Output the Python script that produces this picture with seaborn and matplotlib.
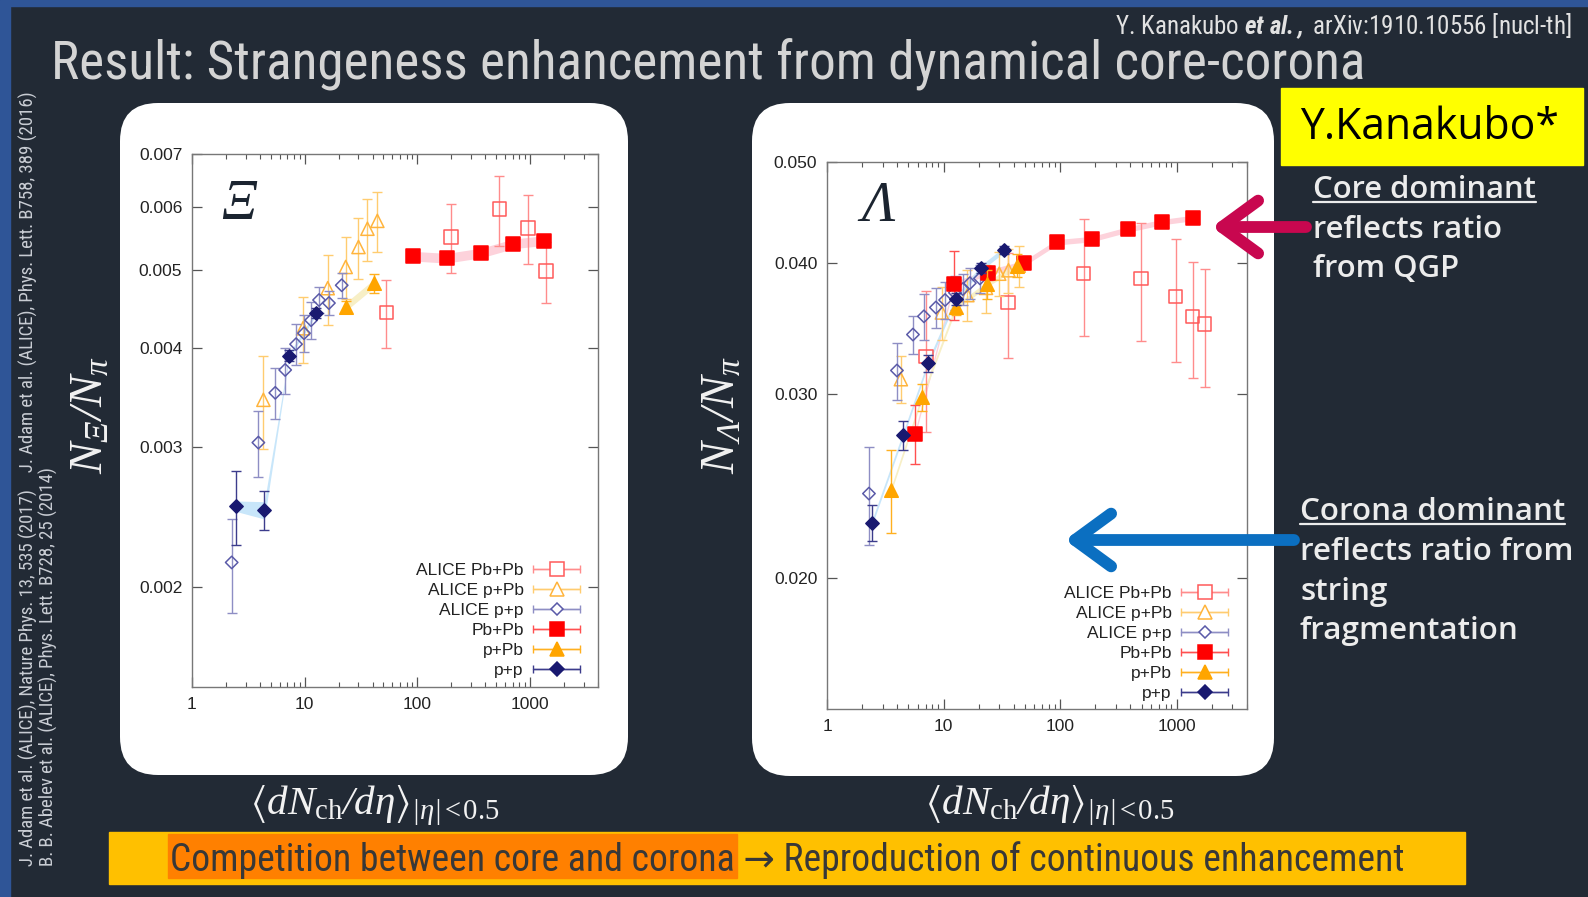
import numpy as np
import matplotlib
matplotlib.use("Agg")
import matplotlib.pyplot as plt
import seaborn as sns
from matplotlib import font_manager as fm
from matplotlib.patches import FancyBboxPatch, Rectangle, FancyArrowPatch
from matplotlib.lines import Line2D
from matplotlib.collections import LineCollection
from matplotlib.container import ErrorbarContainer
from matplotlib.legend_handler import HandlerErrorbar
from matplotlib.ticker import FixedLocator, FixedFormatter, LogLocator, NullLocator, NullFormatter
from matplotlib.transforms import IdentityTransform

# ---------------- Xi / pi ----------------
xi_alice_pbpb_x = [53, 198, 533, 958, 1380]
xi_alice_pbpb_y = [0.00443, 0.00551, 0.00597, 0.00565, 0.00499]
xi_alice_pbpb_err = [0.00044, 0.00055, 0.00060, 0.00056, 0.00044]

xi_alice_ppb_x = [4.30, 9.66, 16.0, 23.1, 30.0, 36.0, 44.1]
xi_alice_ppb_y = [0.00344, 0.00423, 0.00475, 0.00505, 0.00535, 0.00564, 0.00577]
xi_alice_ppb_err = [0.00046, 0.00040, 0.00048, 0.00045, 0.00047, 0.00050, 0.00050]

xi_alice_pp_x = [2.25, 3.88, 5.48, 6.71, 8.38, 9.86, 11.4, 13.4, 16.4, 21.3]
xi_alice_pp_y = [0.00215, 0.00304, 0.00351, 0.00375, 0.00404, 0.00417, 0.00433, 0.00459, 0.00455, 0.00479]
xi_alice_pp_err = [0.00029, 0.00029, 0.00026, 0.00025, 0.00024, 0.00022, 0.00023, 0.00017, 0.00016, 0.00017]

xi_pbpb_x = [91.5, 182, 370, 707, 1325]
xi_pbpb_y = [0.00521, 0.00518, 0.00526, 0.00540, 0.00545]
xi_pbpb_err = [0.00005, 0.00005, 0.00005, 0.00005, 0.00005]
xi_pbpb_band = [0.014, 0.014, 0.014, 0.014, 0.014]

xi_ppb_x = [23.1, 41.5]
xi_ppb_y = [0.00450, 0.00482]
xi_ppb_err = [0.00008, 0.00013]
xi_ppb_band = [0.012, 0.012]

xi_pp_x = [2.44, 4.39, 7.28, 12.6]
xi_pp_y = [0.00253, 0.00250, 0.00391, 0.00442]
xi_pp_err = [0.00027, 0.00014, 0.00006, 0.00006]
xi_pp_band = [0.015, 0.025, 0.006, 0.006]

# ---------------- Lambda / pi ----------------
la_alice_pbpb_x = [7.05, 35.6, 159, 491, 979, 1368, 1734]
la_alice_pbpb_y = [0.0326, 0.0367, 0.0391, 0.0387, 0.0372, 0.0356, 0.0350]
la_alice_pbpb_err = [0.0050, 0.0042, 0.0050, 0.0050, 0.0050, 0.0045, 0.0045]

la_alice_ppb_x = [4.30, 9.66, 16.0, 23.1, 30.0, 36.0, 44.1]
la_alice_ppb_y = [0.0310, 0.0359, 0.0373, 0.0379, 0.0391, 0.0394, 0.0398]
la_alice_ppb_err = [0.0016, 0.0021, 0.0021, 0.0020, 0.0019, 0.0019, 0.0018]

la_alice_pp_x = [2.29, 3.98, 5.46, 6.78, 8.59, 10.3, 12.5, 14.6, 16.8, 20.5]
la_alice_pp_y = [0.0241, 0.0316, 0.0342, 0.0356, 0.0363, 0.0369, 0.0375, 0.0378, 0.0383, 0.0387]
la_alice_pp_err = [0.0026, 0.0020, 0.0014, 0.0018, 0.0016, 0.0015, 0.0014, 0.0013, 0.0013, 0.0012]

la_pbpb_x = [5.68, 12.25, 23.9, 48.8, 93.5, 187, 380, 742, 1368]
la_pbpb_y = [0.0275, 0.0382, 0.0392, 0.0400, 0.0419, 0.0422, 0.0431, 0.0438, 0.0442]
la_pbpb_err = [0.0018, 0.0029, 0.0006, 0.0003, 0.0003, 0.0003, 0.0003, 0.0003, 0.0003]
la_pbpb_band = [0.006] * 9

la_ppb_x = [3.54, 6.52, 12.7, 23.5, 42.5]
la_ppb_y = [0.0243, 0.0298, 0.0363, 0.0382, 0.0398]
la_ppb_err = [0.0022, 0.0009, 0.0006, 0.0012, 0.0010]
la_ppb_band = [0.006] * 5

la_pp_x = [2.43, 4.48, 7.33, 12.7, 20.9, 32.9]
la_pp_y = [0.0226, 0.0274, 0.0321, 0.0370, 0.0396, 0.0412]
la_pp_err = [0.0009, 0.0009, 0.0006, 0.0005, 0.0004, 0.0004]
la_pp_band = [0.006] * 6

LEGEND_LABELS = ["ALICE Pb+Pb", "ALICE p+Pb", "ALICE p+p", "Pb+Pb", "p+Pb", "p+p"]
XTICKS = [1, 10, 100, 1000]
XTICK_LABELS = ["1", "10", "100", "1000"]
XI_YTICKS = [0.002, 0.003, 0.004, 0.005, 0.006, 0.007]
XI_YTICK_LABELS = ["0.002", "0.003", "0.004", "0.005", "0.006", "0.007"]
LA_YTICKS = [0.020, 0.030, 0.040, 0.050]
LA_YTICK_LABELS = ["0.020", "0.030", "0.040", "0.050"]

TITLE = "Result: Strangeness enhancement from dynamical core-corona"
CITE = r"Y. Kanakubo $\mathsf{et\ al.,}$ arXiv:1910.10556 [nucl-th]"
REF_LINE1 = ("J. Adam et al. (ALICE), Nature Phys. 13, 535 (2017)    "
             "J. Adam et al. (ALICE), Phys. Lett. B758, 389 (2016)")
REF_LINE2 = "B. B. Abelev et al. (ALICE), Phys. Lett. B728, 25 (2014)"
CORE_NOTE = ["Core dominant", "reflects ratio", "from QGP"]
CORONA_NOTE = ["Corona dominant", "reflects ratio from", "string", "fragmentation"]
BOTTOM_A = "Competition between core and corona"
BOTTOM_B = " \u2192 Reproduction of continuous enhancement"

# ---------------- style ----------------
sns.set_theme(style="ticks")

_names = {f.name for f in fm.fontManager.ttflist}


def first_font(cands, default):
    for c in cands:
        if c in _names:
            return c
    return default


NARROW = first_font(["Liberation Sans Narrow", "Roboto Condensed", "Open Sans Condensed",
                     "DejaVu Sans Condensed", "Noto Sans Condensed"], "Liberation Sans")
UI = first_font(["Open Sans", "Noto Sans", "Lato"], "DejaVu Sans")

plt.rcParams.update({
    "mathtext.fontset": "custom",
    "mathtext.rm": "Liberation Serif:italic",
    "mathtext.it": "Liberation Serif:italic",
    "mathtext.bf": "Liberation Serif",
    "mathtext.sf": f"{NARROW}:italic:bold",
    "mathtext.fallback": "stix",
    "axes.edgecolor": "#777777",
    "axes.linewidth": 1.0,
})
plt.rcParams["font.family"] = ["Liberation Sans", "DejaVu Sans"]

BG = "#222a35"
FRAME = "#2f5597"

STY = {
    "alice_pbpb": dict(marker="s", s=95, face="none", edge="#ff5a5a", ecolor="#ff8c8c", z=3.0, ms=9.5),
    "alice_ppb": dict(marker="^", s=90, face="none", edge="#ffb43c", ecolor="#ffcc70", z=3.1, ms=9.5),
    "alice_pp": dict(marker="D", s=40, face="none", edge="#5a5aa8", ecolor="#8e8ec4", z=3.2, ms=6.4),
    "pbpb": dict(marker="s", s=105, face="#ff0000", edge="#ff0000", ecolor="#ff5050", z=5.0, ms=10),
    "ppb": dict(marker="^", s=95, face="#ffa500", edge="#ffa500", ecolor="#ffb020", z=5.2, ms=10),
    "pp": dict(marker="D", s=46, face="#191970", edge="#191970", ecolor="#3c3c8c", z=5.4, ms=6.8),
}
BAND = {"pbpb": "#fdd2db", "ppb": "#f7efc6", "pp": "#c8e6fa"}
ORDER = ["alice_pbpb", "alice_ppb", "alice_pp", "pbpb", "ppb", "pp"]

W, H = 1588, 897
fig = plt.figure(figsize=(W / 100, H / 100), dpi=100)
fig.patch.set_facecolor(BG)
renderer = fig.canvas.get_renderer()


def rect(x0, y0, x1, y1):
    return [x0 / W, 1 - y1 / H, (x1 - x0) / W, (y1 - y0) / H]


def ftext(x, y, s, **kw):
    return fig.text(x / W, 1 - y / H, s, **kw)


def fit(t, target, along="w"):
    for _ in range(3):
        bb = t.get_window_extent(renderer)
        cur = bb.width if along == "w" else bb.height
        t.set_fontsize(t.get_fontsize() * target / cur)


# slide frame and white panels
fig.add_artist(Rectangle((0, 0), 10 / W, 1, transform=fig.transFigure, color=FRAME, zorder=-3))
fig.add_artist(Rectangle((0, 1 - 6 / H), 1, 6 / H, transform=fig.transFigure, color=FRAME, zorder=-3))
for (x0, y0, x1, y1) in [(120, 103, 628, 775), (752, 103, 1274, 776)]:
    fig.add_artist(FancyBboxPatch((x0 / 100, (H - y1) / 100), (x1 - x0) / 100, (y1 - y0) / 100,
                                  boxstyle="round,pad=0,rounding_size=0.38",
                                  transform=fig.dpi_scale_trans, facecolor="white",
                                  edgecolor="none", zorder=-2))


def proxy(st):
    face = "white" if st["face"] == "none" else st["face"]
    body = Line2D([], [], color=st["ecolor"], lw=1.0, marker=st["marker"], markersize=st["ms"],
                  markerfacecolor=face, markeredgecolor=st["edge"], markeredgewidth=1.1)
    cap = Line2D([], [], color=st["ecolor"], lw=1.0, marker="|", markersize=6, markeredgewidth=1.0)
    bars = LineCollection([], colors=[st["ecolor"]], linewidths=1.0)
    return ErrorbarContainer((body, (cap, cap), (bars,)), has_xerr=True, has_yerr=False)


def build(ax, series, bands, ylim, yticks, yticklabels, symbol, sym_pos, leg_anchor):
    ax.set_xscale("log")
    ax.set_yscale("log")
    for key, (x, y, b) in bands.items():
        x = np.asarray(x); y = np.asarray(y); b = np.asarray(b)
        ax.fill_between(x, y * (1 - b), y * (1 + b), color=BAND[key], lw=0, zorder=1)
    for key in ORDER:
        x, y, e = series[key]
        st = STY[key]
        ax.errorbar(x, y, yerr=e, fmt="none", ecolor=st["ecolor"], elinewidth=1.0,
                    capsize=3.3, capthick=1.0, zorder=st["z"])
        sns.scatterplot(x=x, y=y, ax=ax, marker=st["marker"], s=st["s"], color=st["edge"],
                        facecolor=st["face"], edgecolor=st["edge"], linewidth=1.1,
                        zorder=st["z"] + 0.05, legend=False)
    ax.set_xlim(1, 4000)
    ax.set_ylim(*ylim)
    ax.xaxis.set_major_locator(FixedLocator(XTICKS))
    ax.xaxis.set_major_formatter(FixedFormatter(XTICK_LABELS))
    ax.xaxis.set_minor_locator(LogLocator(base=10, subs=np.arange(2, 10)))
    ax.xaxis.set_minor_formatter(NullFormatter())
    ax.yaxis.set_major_locator(FixedLocator(yticks))
    ax.yaxis.set_major_formatter(FixedFormatter(yticklabels))
    ax.yaxis.set_minor_locator(NullLocator())
    ax.tick_params(which="both", direction="in", top=True, right=True, color="#555555",
                   labelcolor="#222222", labelsize=12.5)
    ax.tick_params(which="major", length=7, width=0.9, pad=7)
    ax.tick_params(which="minor", length=3.5, width=0.8)
    ax.set_xlabel("")
    ax.set_ylabel("")
    ax.set_facecolor("white")
    ax.text(sym_pos[0], sym_pos[1], symbol, transform=ax.transAxes, ha="center", va="center",
            family="Liberation Serif", style="italic", fontsize=40, color="#1b2430")
    handles = [proxy(STY[k]) for k in ORDER]
    ax.legend(handles, LEGEND_LABELS, loc="lower right", bbox_to_anchor=leg_anchor,
              frameon=False, markerfirst=False, handlelength=2.7, handletextpad=0.55,
              labelspacing=0.28, borderpad=0, borderaxespad=0, numpoints=1,
              prop={"family": "Liberation Sans", "size": 12.5}, labelcolor="#222222",
              handler_map={ErrorbarContainer: HandlerErrorbar(xerr_size=1.35, numpoints=1)})


ax1 = fig.add_axes(rect(192, 154, 598, 687))
build(ax1,
      {"alice_pbpb": (xi_alice_pbpb_x, xi_alice_pbpb_y, xi_alice_pbpb_err),
       "alice_ppb": (xi_alice_ppb_x, xi_alice_ppb_y, xi_alice_ppb_err),
       "alice_pp": (xi_alice_pp_x, xi_alice_pp_y, xi_alice_pp_err),
       "pbpb": (xi_pbpb_x, xi_pbpb_y, xi_pbpb_err),
       "ppb": (xi_ppb_x, xi_ppb_y, xi_ppb_err),
       "pp": (xi_pp_x, xi_pp_y, xi_pp_err)},
      {"pbpb": (xi_pbpb_x, xi_pbpb_y, xi_pbpb_band),
       "ppb": (xi_ppb_x, xi_ppb_y, xi_ppb_band),
       "pp": (xi_pp_x, xi_pp_y, xi_pp_band)},
      (0.0015, 0.007), XI_YTICKS, XI_YTICK_LABELS, "\u039e", (0.115, 0.905), (0.956, 0.017))

ax2 = fig.add_axes(rect(827, 162, 1247, 709))
build(ax2,
      {"alice_pbpb": (la_alice_pbpb_x, la_alice_pbpb_y, la_alice_pbpb_err),
       "alice_ppb": (la_alice_ppb_x, la_alice_ppb_y, la_alice_ppb_err),
       "alice_pp": (la_alice_pp_x, la_alice_pp_y, la_alice_pp_err),
       "pbpb": (la_pbpb_x, la_pbpb_y, la_pbpb_err),
       "ppb": (la_ppb_x, la_ppb_y, la_ppb_err),
       "pp": (la_pp_x, la_pp_y, la_pp_err)},
      {"pbpb": (la_pbpb_x, la_pbpb_y, la_pbpb_band),
       "ppb": (la_ppb_x, la_ppb_y, la_ppb_band),
       "pp": (la_pp_x, la_pp_y, la_pp_band)},
      (0.015, 0.050), LA_YTICKS, LA_YTICK_LABELS, "\u039b", (0.122, 0.918), (0.955, 0.015))

# axis titles in white on the slide background
XLAB = r"$\langle dN_{\mathbf{ch}}/d\eta\rangle_{|\eta|\!<\!\mathbf{0.5}}$"
for cx in (375, 1050):
    t = ftext(cx, 806, XLAB, ha="center", va="center", color="#f2f2f2", fontsize=22)
    fit(t, 249)
for cx, lab in ((91, r"$N_{\Xi}/N_{\pi}$"), (722, r"$N_{\Lambda}/N_{\pi}$")):
    t = ftext(cx, 415, lab, ha="center", va="center", rotation=90, color="#f2f2f2", fontsize=26)
    fit(t, 118, along="h")

# title and citation
t = ftext(51, 65, TITLE, ha="left", va="center", color="#d4d4d4", fontsize=34,
          family=[NARROW, "DejaVu Sans"])
fit(t, 1311)

c = ftext(1572, 26, CITE, ha="right", va="center", color="#e2e2e2", fontsize=16,
          family=[NARROW, "DejaVu Sans"])
fit(c, 458)

# vertical reference lines
r1 = ftext(28, 866, REF_LINE1, ha="center", va="bottom", rotation=90, color="#c9cdd4",
           fontsize=11, family=[NARROW, "DejaVu Sans"])
fit(r1, 773, along="h")
ftext(48, 866, REF_LINE2, ha="center", va="bottom", rotation=90, color="#c9cdd4",
      fontsize=r1.get_fontsize(), family=[NARROW, "DejaVu Sans"])

# name tag
fig.add_artist(Rectangle((1281 / W, 1 - 165 / H), 302 / W, 77 / H, transform=fig.transFigure,
                         color="#ffff00", zorder=1))
t = ftext(1300, 128, "Y.Kanakubo*", ha="left", va="center", color="black", fontsize=32,
          family=UI, zorder=2)
fit(t, 259)


# side notes with underlined headings
def note(lines, x, baselines, head_w):
    first = ftext(x, baselines[0], lines[0], ha="left", va="baseline", color="#ececec",
                  fontsize=22, family=UI, weight="semibold")
    fit(first, head_w)
    fs = first.get_fontsize()
    for s, yb in zip(lines[1:], baselines[1:]):
        ftext(x, yb, s, ha="left", va="baseline", color="#ececec", fontsize=fs, family=UI,
              weight="semibold")
    bb = first.get_window_extent(renderer)
    yline = (H - baselines[0] - 4)
    fig.add_artist(Line2D([bb.x0, bb.x1], [yline, yline], transform=IdentityTransform(),
                          color="#ececec", lw=1.6))


note(CORE_NOTE, 1313, [198, 238, 277], 224)
note(CORONA_NOTE, 1300, [520, 560, 600, 639], 265)

# arrows pointing at the core and corona limits
for (x0, x1, y, col) in [(1306, 1212, 227, "#c8074f"), (1294, 1065, 540, "#0b6fc1")]:
    fig.add_artist(FancyArrowPatch((x0 / 100, (H - y) / 100), (x1 / 100, (H - y) / 100),
                                   arrowstyle="->,head_length=26,head_width=19",
                                   transform=fig.dpi_scale_trans, color=col, lw=8.5,
                                   shrinkA=0, shrinkB=0, capstyle="round", joinstyle="round",
                                   zorder=6))

# bottom summary bar
fig.add_artist(Rectangle((109 / W, 1 - 884 / H), (1465 - 109) / W, 52 / H,
                         transform=fig.transFigure, color="#ffc000", zorder=1))
bt = ftext(170, 860, BOTTOM_A + BOTTOM_B, ha="left", va="center", color="#383838",
           fontsize=26, family=[NARROW, "DejaVu Sans"], zorder=3)
fit(bt, 1231)
probe = ftext(170, 860, BOTTOM_A, ha="left", va="center", fontsize=bt.get_fontsize(),
              family=[NARROW, "DejaVu Sans"])
wa = probe.get_window_extent(renderer).width
probe.remove()
fig.add_artist(Rectangle((168 / W, 1 - 878 / H), (wa + 4) / W, 44 / H,
                         transform=fig.transFigure, color="#ff8000", zorder=2))

fig.savefig("out.png", dpi=100, facecolor=BG)
